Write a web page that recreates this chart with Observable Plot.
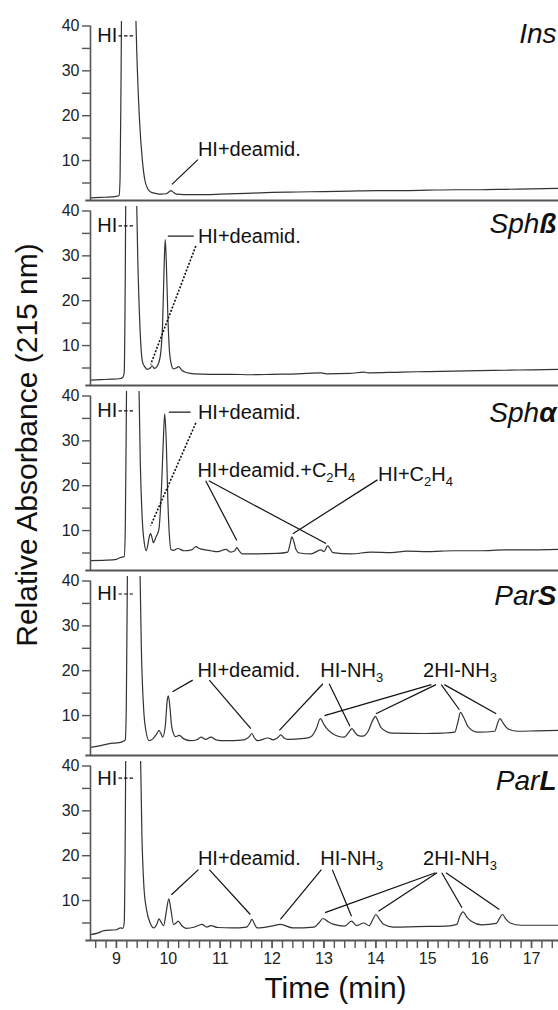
<!DOCTYPE html>
<html><head><meta charset="utf-8">
<style>body{margin:0;background:#fff}</style>
<script src="https://cdn.jsdelivr.net/npm/d3@7"></script>
<script src="https://cdn.jsdelivr.net/npm/@observablehq/plot@0.6"></script>
</head><body><div id="chart"></div>
<script>
// ---- data ----
const panels = ["Ins", "Sphß", "Sphα", "ParS", "ParL"];
const titles = ["Ins", "Sph|ß", "Sph|α", "Par|S", "Par|L"];
const titleV = [36.1, 35.0, 34.2, 34.7, 34.7];

const ins = [[8.5,1.7],[8.7,1.8],[8.9,1.9],[9.0,2.0],[9.05,2.2],[9.07,6],[9.09,30],[9.11,60],[9.25,70],[9.36,48],[9.39,35],[9.44,20],[9.5,10],[9.55,5.5],[9.6,3.8],[9.66,3.0],[9.75,2.7],[9.87,2.5],[9.96,2.6],[10.01,3.0],[10.05,3.3],[10.1,2.9],[10.16,2.5],[10.3,2.4],[10.6,2.4],[11.0,2.5],[11.5,2.7],[12.0,2.9],[12.5,3.0],[13.0,3.1],[13.5,3.2],[14.0,3.3],[14.5,3.3],[15.0,3.4],[15.5,3.5],[16.0,3.5],[16.5,3.6],[17.0,3.7],[17.52,3.8]];

const sphB = [[8.5,2.3],[8.7,2.4],[8.9,2.5],[9.05,2.6],[9.12,2.9],[9.15,4],[9.17,25],[9.19,60],[9.3,70],[9.38,48],[9.41,30],[9.45,15],[9.5,6.5],[9.55,5.2],[9.6,4.7],[9.65,5.0],[9.69,5.5],[9.73,4.9],[9.78,5.3],[9.84,7.3],[9.89,15],[9.92,28],[9.94,33.6],[9.96,29],[9.99,17],[10.02,9],[10.05,6.2],[10.1,4.8],[10.15,5.0],[10.2,5.3],[10.26,4.5],[10.35,4.0],[10.5,3.7],[10.8,3.6],[11.2,3.6],[11.6,3.5],[12.0,3.6],[12.5,3.7],[12.95,3.9],[13.05,3.7],[13.5,3.8],[13.77,4.1],[13.85,3.9],[14.5,4.1],[15.0,4.2],[15.5,4.3],[16.0,4.4],[16.5,4.5],[17.0,4.6],[17.52,4.7]];

const sphA = [[8.5,3.3],[8.8,3.4],[9.0,3.6],[9.08,4.0],[9.15,4.2],[9.17,10],[9.19,35],[9.21,60],[9.33,70],[9.43,45],[9.46,25],[9.5,12],[9.54,7],[9.57,5.5],[9.6,6.5],[9.63,8.5],[9.66,9.3],[9.69,8.2],[9.71,7.3],[9.76,8.5],[9.82,10.4],[9.87,20],[9.91,32],[9.93,36],[9.96,30],[9.99,17],[10.02,9],[10.05,5.8],[10.1,5.6],[10.18,6.0],[10.3,5.5],[10.45,5.7],[10.53,6.4],[10.6,6.0],[10.66,5.8],[10.82,5.5],[10.95,5.3],[11.11,5.8],[11.2,5.2],[11.28,5.5],[11.32,6.2],[11.37,5.4],[11.43,4.8],[11.72,4.8],[12.1,4.9],[12.3,5.2],[12.35,7.2],[12.38,8.6],[12.42,7.5],[12.46,5.8],[12.53,5.0],[12.75,4.8],[12.94,5.7],[13.0,5.3],[13.07,6.6],[13.12,5.9],[13.17,5.1],[13.52,4.8],[13.91,5.2],[14.3,5.1],[14.6,5.4],[15.0,5.3],[15.5,5.5],[16.0,5.5],[16.5,5.7],[17.0,5.7],[17.52,5.8]];

const parS = [[8.5,2.9],[8.7,3.3],[8.89,3.8],[9.0,3.9],[9.12,4.2],[9.17,4.6],[9.19,12],[9.21,40],[9.23,60],[9.35,70],[9.45,45],[9.48,25],[9.53,10.4],[9.57,6.5],[9.63,4.4],[9.7,4.8],[9.77,5.8],[9.82,6.7],[9.86,5.9],[9.89,5.2],[9.94,7.5],[9.98,13.5],[10.0,14.4],[10.03,12],[10.06,8],[10.08,6.7],[10.14,5.3],[10.21,5.6],[10.3,4.8],[10.43,4.4],[10.55,4.6],[10.63,5.2],[10.72,4.7],[10.82,5.2],[10.92,4.6],[11.08,4.4],[11.46,4.6],[11.56,5.3],[11.61,6.0],[11.66,5.0],[11.72,4.4],[11.92,5.0],[12.02,4.6],[12.1,5.0],[12.17,5.7],[12.23,5.0],[12.3,4.7],[12.62,4.9],[12.75,5.3],[12.85,7.0],[12.93,9.3],[13.0,8.0],[13.07,6.9],[13.27,5.4],[13.39,5.2],[13.48,6.3],[13.54,7.1],[13.6,6.2],[13.65,5.6],[13.75,5.4],[13.85,6.5],[13.95,9.2],[13.99,9.8],[14.04,8.8],[14.1,7.3],[14.3,6.1],[14.94,6.0],[15.3,6.1],[15.52,6.3],[15.58,8.5],[15.63,10.7],[15.7,9.4],[15.78,7.5],[15.97,6.3],[16.29,6.5],[16.35,8.4],[16.39,9.3],[16.46,8.2],[16.55,7.0],[16.74,6.5],[17.1,6.6],[17.52,6.7]];

const parL = [[8.5,2.4],[8.65,2.8],[8.76,3.3],[9.0,3.5],[9.08,3.9],[9.12,3.8],[9.15,5],[9.17,25],[9.19,60],[9.3,70],[9.46,45],[9.49,25],[9.53,13],[9.58,8.0],[9.65,5],[9.72,3.9],[9.78,4.8],[9.82,5.9],[9.86,5.2],[9.91,4.4],[9.96,7.5],[10.01,10.4],[10.05,8],[10.1,4.7],[10.15,5.0],[10.19,5.4],[10.26,4.4],[10.34,3.8],[10.51,4.1],[10.65,4.7],[10.74,4.1],[10.82,4.4],[10.95,4.0],[11.23,3.9],[11.51,4.1],[11.57,5.0],[11.61,5.8],[11.66,4.8],[11.71,3.9],[11.99,4.3],[12.16,4.7],[12.4,3.9],[12.81,4.1],[12.9,5.0],[12.98,6.0],[13.08,5.3],[13.19,4.7],[13.4,4.3],[13.53,5.4],[13.63,4.4],[13.77,5.0],[13.87,4.4],[13.95,6.0],[14.0,6.9],[14.07,5.8],[14.15,4.7],[14.33,4.1],[14.8,4.2],[15.35,4.3],[15.56,4.7],[15.62,6.5],[15.68,7.5],[15.76,6.2],[15.84,5.4],[16.04,4.6],[16.32,4.9],[16.39,6.2],[16.44,6.9],[16.51,5.8],[16.59,5.0],[16.8,4.5],[17.2,4.5],[17.52,4.5]];

const traces = [ins, sphB, sphA, parS, parL];

// "HI" main-peak label height per panel
const hiV = [37.8, 36.7, 36.7, 37.1, 37.3];

// peak labels: [panel index, time, absorbance, text]
const labels = [
  [0, 10.57, 12.4, "HI+deamid."],
  [1, 10.57, 34.4, "HI+deamid."],
  [2, 10.57, 36.4, "HI+deamid."],
  [2, 10.56, 23.3, "HI+deamid.+C_2H_4"],
  [2, 14.04, 22.4, "HI+C_2H_4"],
  [3, 10.56, 20.0, "HI+deamid."],
  [3, 12.93, 20.0, "HI-NH_3"],
  [3, 14.91, 20.0, "2HI-NH_3"],
  [4, 10.57, 19.3, "HI+deamid."],
  [4, 12.93, 19.3, "HI-NH_3"],
  [4, 14.91, 19.3, "2HI-NH_3"]
];

// solid leader lines: [panel, t1, v1, t2, v2]
const leaders = [
  [0, 10.57, 10.2, 10.07, 4.7],
  [1, 9.99, 34.4, 10.49, 34.4],
  [2, 10.01, 36.4, 10.43, 36.4],
  [2, 10.72, 21.1, 11.32, 7.8],
  [2, 10.78, 21.1, 13.04, 7.1],
  [2, 14.03, 21.3, 12.4, 9.3],
  [3, 10.47, 17.9, 10.08, 15.3],
  [3, 10.79, 17.9, 11.59, 7.1],
  [3, 12.98, 17.1, 12.14, 6.7],
  [3, 13.1, 17.1, 13.5, 7.6],
  [3, 15.07, 16.9, 13.01, 10.0],
  [3, 15.16, 16.9, 14.0, 10.4],
  [3, 15.26, 16.9, 15.61, 11.3],
  [3, 15.32, 16.9, 16.32, 10.4],
  [4, 10.58, 16.9, 10.06, 11.3],
  [4, 10.79, 16.9, 11.58, 6.9],
  [4, 12.95, 16.9, 12.16, 5.8],
  [4, 13.16, 16.9, 13.53, 6.5],
  [4, 15.15, 16.2, 13.02, 7.3],
  [4, 15.18, 16.2, 14.05, 7.6],
  [4, 15.27, 16.2, 15.66, 8.4],
  [4, 15.35, 16.2, 16.38, 8.0]
];

// dotted leader lines: [panel, t1, v1, t2, v2]
const dotted = [
  [1, 10.53, 32.2, 9.66, 5.8],
  [2, 10.53, 34.0, 9.66, 11.1]
];

const yMajor = [10, 20, 30, 40];
const yMinor = [5, 15, 25, 35];
const xMajor = [9, 10, 11, 12, 13, 14, 15, 16, 17];
const xMinor = d3.range(43, 88).map(d => d / 5);

// ---- build tables ----
const traceData = traces.flatMap((tr, i) => tr.map(([t, v]) => ({panel: panels[i], t, v})));
const hiData = hiV.map((v, i) => ({panel: panels[i], v}));
const labelData = labels.map(([p, t, v, text]) => ({panel: panels[p], t, v, text}));
const toLink = ([p, t1, v1, t2, v2]) => ({panel: panels[p], t1, v1, t2, v2});
const leaderData = leaders.map(toLink);
const dottedData = dotted.map(toLink);
const titleData = titles.map((text, i) => ({panel: panels[i], text, v: titleV[i]}));

const yMin = 1.1, yMax = 41;
const FONT = "'Liberation Sans', Arial, Helvetica, sans-serif";

const chart = Plot.plot({
  width: 558,
  height: 1010,
  marginLeft: 90,
  marginRight: 0,
  marginTop: 20,
  marginBottom: 69,
  style: {fontFamily: FONT, fontSize: "16px", background: "#fff", color: "#222"},
  x: {domain: [8.5, 17.52]},
  y: {domain: [yMin, yMax]},
  fy: {domain: panels, paddingInner: 0.031, paddingOuter: 0, axis: null, label: null},
  marks: [
    Plot.line(traceData, {x: "t", y: "v", fy: "panel", stroke: "#333", strokeWidth: 1.2, curve: "monotone-x", clip: true}),
    Plot.ruleX([8.5], {y1: yMin, y2: 40, stroke: "#555", strokeWidth: 1.6}),
    Plot.ruleY([yMin], {x1: 8.41, x2: 17.52, stroke: "#555", strokeWidth: 2}),
    Plot.axisY({ticks: yMajor, tickSize: 8, tickPadding: 3, label: null, stroke: "#555", strokeWidth: 1.4, fill: "#222", fontSize: 16}),
    Plot.axisY({ticks: yMinor, tickSize: 8, tickFormat: () => "", label: null, stroke: "#555", strokeWidth: 1.4}),
    Plot.axisX({ticks: xMinor, tickSize: 8, tickFormat: () => "", label: null, stroke: "#555", strokeWidth: 1.4}),
    Plot.axisX({ticks: xMajor, tickSize: 8, tickPadding: 4, label: null, stroke: "#555", strokeWidth: 1.4, fill: "#222", fontSize: 16}),
    // HI labels with dashed leader
    Plot.text(hiData, {x: () => 8.63, y: "v", fy: "panel", text: () => "HI", textAnchor: "start", fontSize: 20, fill: "#111"}),
    Plot.link(hiData, {x1: () => 9.04, x2: () => 9.33, y1: "v", y2: "v", fy: "panel", stroke: "#111", strokeWidth: 1.2, strokeDasharray: "3.5,2"}),
    // peak labels
    Plot.link(leaderData, {x1: "t1", y1: "v1", x2: "t2", y2: "v2", fy: "panel", stroke: "#111", strokeWidth: 1.2}),
    Plot.link(dottedData, {x1: "t1", y1: "v1", x2: "t2", y2: "v2", fy: "panel", stroke: "#111", strokeWidth: 1.6, strokeDasharray: "2,1.6"}),
    Plot.text(labelData, {x: "t", y: "v", fy: "panel", text: "text", textAnchor: "start", fontSize: 20, fill: "#111"}),
    // panel titles
    Plot.text(titleData, {frameAnchor: "right", y: "v", fy: "panel", text: "text", textAnchor: "end", lineAnchor: "bottom", dx: -2, fontSize: 28, fontStyle: "italic", fill: "#111"}),
    // axis titles
    Plot.text(["Relative Absorbance (215 nm)"], {fy: ["Sphα"], frameAnchor: "left", rotate: -90, dx: -63, dy: -36, fontSize: 30, textAnchor: "middle", lineAnchor: "middle", fill: "#111"}),
    Plot.text(["Time (min)"], {fy: ["ParL"], frameAnchor: "bottom", dx: 11, dy: 57, fontSize: 30, textAnchor: "middle", lineAnchor: "bottom", fill: "#111"})
  ]
});

// subscripts and bold suffixes as real tspans
const NS = "http://www.w3.org/2000/svg";
d3.select(chart).selectAll("text").each(function () {
  const s = this.textContent;
  if (s.includes("_")) {
    const parts = s.split(/_(\d)/);
    this.textContent = "";
    parts.forEach((p, i) => {
      if (!p) return;
      const ts = document.createElementNS(NS, "tspan");
      ts.textContent = p;
      if (i % 2 === 1) { ts.setAttribute("dy", "5"); ts.setAttribute("font-size", "13"); }
      else if (i > 0) ts.setAttribute("dy", "-5");
      this.appendChild(ts);
    });
  } else if (s.includes("|")) {
    const [a, b] = s.split("|");
    this.textContent = "";
    const t1 = document.createElementNS(NS, "tspan"); t1.textContent = a;
    const t2 = document.createElementNS(NS, "tspan"); t2.textContent = b; t2.setAttribute("font-weight", "bold");
    this.appendChild(t1); this.appendChild(t2);
  }
});

document.getElementById("chart").appendChild(chart);
</script>
</body></html>
